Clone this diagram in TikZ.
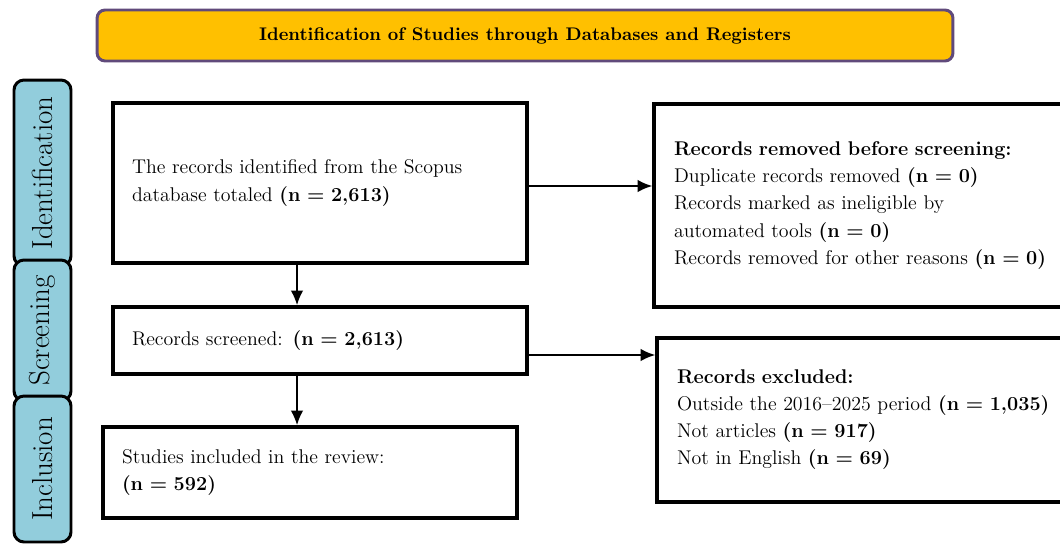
\documentclass[tikz,border=0pt]{standalone}
\usetikzlibrary{arrows.meta,positioning}
\definecolor{titlegold}{RGB}{255,192,0}
\definecolor{titlepurple}{RGB}{96,74,123}
\definecolor{tabblue}{RGB}{146,205,220}
\begin{document}
\begin{tikzpicture}[x=0.02cm,y=-0.02cm,
  flowbox/.style={draw, line width=2.2pt, fill=white, align=left, inner xsep=0.38cm, font=\fontsize{11.3}{15.4}\selectfont},
  stagetab/.style={draw, line width=1.7pt, fill=tabblue, rounded corners=0.2cm, rotate=90, minimum height=1.14cm, inner ysep=0pt, font=\fontsize{16.5}{19}\selectfont},
  flowarrow/.style={-{Latex[length=2.9mm,width=2.5mm]}, line width=0.85pt}]
\path[use as bounding box, clip] (0,0) rectangle (1060,544);
%\draw[step=50,gray,very thin] (0,0) grid (1060,544); %background grid
% title bar
\node[draw=titlepurple, fill=titlegold, line width=1.7pt, rounded corners=0.16cm, minimum width=17.12cm, minimum height=1.02cm, font=\fontsize{10.4}{12}\selectfont\bfseries] (title) at (525,35.5) {Identification of Studies through Databases and Registers};
% stage tabs
\node[stagetab, minimum width=3.72cm] (identtab) at (42.5,173) {Identification};
\node[stagetab, minimum width=2.82cm] (screentab) at (42.5,330.5) {Screening};
\node[stagetab, minimum width=2.92cm] (incltab) at (42.5,469) {Inclusion};
% main column
\node[flowbox, text width=7.52cm, minimum height=3.2cm] (identified) at (320,183) {The records identified from the Scopus\\ database totaled \textbf{(n = 2,613)}};
\node[flowbox, text width=7.52cm, minimum height=1.34cm] (screened) at (320,340.5) {Records screened: \textbf{(n = 2,613)}};
\node[flowbox, text width=7.52cm, minimum height=1.82cm] (included) at (310,472.5) {Studies included in the review:\\ \textbf{(n = 592)}};
% side column
\node[flowbox, inner xsep=0.4cm, text width=7.72cm, minimum height=4.06cm] (removed) at (867,205.5) {\textbf{Records removed before screening:}\\ Duplicate records removed \textbf{(n = 0)}\\ Records marked as ineligible by\\ automated tools \textbf{(n = 0)}\\ Records removed for other reasons \textbf{(n = 0)}};
\node[flowbox, inner xsep=0.4cm, text width=7.66cm, minimum height=3.28cm] (excluded) at (868.5,420) {\textbf{Records excluded:}\\ Outside the 2016--2025 period \textbf{(n = 1,035)}\\ Not articles \textbf{(n = 917)}\\ Not in English \textbf{(n = 69)}};
% arrows
\coordinate (spine) at (297,0);
\draw[flowarrow] (spine |- identified.south) -- (spine |- screened.north);
\draw[flowarrow] (spine |- screened.south) -- (spine |- included.north);
\draw[flowarrow] ([yshift=-0.06cm]identified.east) -- ([yshift=-0.06cm]identified.east -| removed.west);
\draw[flowarrow] ([yshift=-0.29cm]screened.east) -- ([yshift=-0.29cm]screened.east -| excluded.west);
\end{tikzpicture}
\end{document}
